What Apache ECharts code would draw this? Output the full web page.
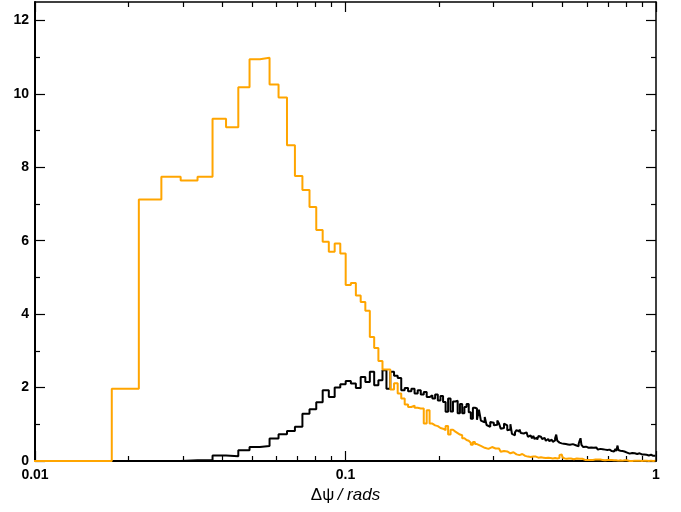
<!DOCTYPE html>
<html>
<head>
<meta charset="utf-8">
<script src="https://cdn.jsdelivr.net/npm/echarts@6/dist/echarts.min.js"></script>
<style>
  html, body { margin: 0; padding: 0; background: #fff; }
  #chart { width: 681px; height: 512px; }
</style>
</head>
<body>
<div id="chart"></div>
<script>
// histogram bins are linear in angle, shown on a log axis
const binWidth = 0.003927
const firstBin = 3

// orange histogram, bins 3..254
const orangeValues = [
  0, 0, 1.97, 7.12, 7.74, 7.64, 7.74, 9.32,
  9.09, 10.18, 10.94, 10.98, 10.25, 9.90, 8.60, 7.76, 7.38, 6.92,
  6.29, 5.97, 5.70, 5.92, 5.65, 4.79, 4.85, 4.51, 4.33, 4.09,
  3.38, 3.08, 2.72, 2.49, 2.49, 1.95, 2.12, 1.84, 1.70, 1.54,
  1.47, 1.51, 1.45, 1.43, 1.43, 1.02, 1.38, 1.02, 0.97, 0.95,
  0.90, 0.88, 0.84, 0.95, 0.72, 0.85, 0.80, 0.76, 0.72, 0.70,
  0.62, 0.57, 0.55, 0.50, 0.44, 0.52, 0.46, 0.43, 0.41, 0.38,
  0.36, 0.31, 0.33, 0.29, 0.38, 0.36, 0.34, 0.32, 0.34, 0.29,
  0.25, 0.27, 0.29, 0.26, 0.22, 0.21, 0.23, 0.24, 0.19, 0.18,
  0.20, 0.16, 0.18, 0.19, 0.15, 0.14, 0.15, 0.12, 0.14, 0.11,
  0.13, 0.12, 0.10, 0.12, 0.11, 0.09, 0.12, 0.10, 0.13, 0.09,
  0.11, 0.08, 0.10, 0.09, 0.12, 0.08, 0.10, 0.07, 0.09, 0.08,
  0.10, 0.07, 0.09, 0.08, 0.16, 0.18, 0.17, 0.09, 0.07, 0.08,
  0.06, 0.08, 0.07, 0.05, 0.07, 0.06, 0.08, 0.05, 0.06, 0.05,
  0.07, 0.05, 0.04, 0.06, 0.05, 0.04, 0.06, 0.04, 0.05, 0.03,
  0.05, 0.04, 0.03, 0.05, 0.04, 0.03, 0.04, 0.05, 0.03, 0.04,
  0.03, 0.04, 0.02, 0.03, 0.04, 0.03, 0.02, 0.04, 0.03, 0.02,
  0.03, 0.02, 0.04, 0.02, 0.03, 0.02, 0.03, 0.01, 0.02, 0.03,
  0.02, 0.01, 0.03, 0.02, 0.01, 0.02, 0.03, 0.01, 0.02, 0.01,
  0.02, 0.01, 0.02, 0.01, 0.02, 0.01, 0.01, 0.02, 0.01, 0.01,
  0.01, 0.02, 0.01, 0, 0.01, 0.02, 0.01, 0.01, 0, 0.01,
  0.02, 0.01, 0, 0.01, 0.01, 0.02, 0, 0.01, 0.01, 0,
  0.01, 0.02, 0.01, 0, 0.01, 0, 0.01, 0.02, 0, 0.01,
  0.01, 0, 0.01, 0.02, 0.01, 0, 0.01, 0, 0.01, 0.01,
  0, 0.01, 0.02, 0, 0.01, 0, 0.01, 0.01, 0, 0.01,
  0.02, 0, 0.01, 0.01
]

// black histogram, bins 3..254
const blackValues = [
  0, 0, 0, 0, 0, 0.02, 0.03, 0.15,
  0.13, 0.29, 0.38, 0.41, 0.61, 0.73, 0.82, 0.93, 1.29, 1.41,
  1.60, 1.93, 1.74, 2.00, 2.09, 2.18, 2.11, 1.99, 2.29, 2.15,
  2.43, 2.06, 2.20, 2.47, 1.97, 2.43, 2.32, 2.26, 1.93, 1.99,
  1.90, 1.97, 1.84, 1.93, 1.81, 1.88, 1.74, 1.79, 1.70, 1.81,
  1.65, 1.77, 1.61, 1.34, 1.70, 1.35, 1.62, 1.64, 1.30, 1.55,
  1.30, 1.47, 1.55, 1.33, 1.15, 1.45, 1.43, 1.12, 1.40, 1.10,
  1.05, 1.20, 0.98, 0.93, 1.06, 1.04, 0.97, 0.99, 1.10, 1.02,
  0.88, 0.90, 1.02, 0.97, 0.84, 0.86, 1.00, 0.74, 0.70, 0.78,
  0.84, 0.80, 0.86, 0.76, 0.75, 0.72, 0.78, 0.79, 0.66, 0.70,
  0.65, 0.62, 0.68, 0.60, 0.64, 0.58, 0.68, 0.66, 0.62, 0.60,
  0.63, 0.58, 0.55, 0.60, 0.57, 0.54, 0.58, 0.55, 0.52, 0.56,
  0.62, 0.72, 0.55, 0.50, 0.52, 0.48, 0.50, 0.47, 0.51, 0.46,
  0.49, 0.45, 0.47, 0.44, 0.48, 0.43, 0.46, 0.42, 0.45, 0.43,
  0.41, 0.44, 0.40, 0.47, 0.55, 0.62, 0.44, 0.40, 0.38, 0.41,
  0.39, 0.37, 0.40, 0.36, 0.38, 0.35, 0.37, 0.39, 0.34, 0.36,
  0.33, 0.35, 0.37, 0.32, 0.34, 0.31, 0.36, 0.33, 0.30, 0.34,
  0.32, 0.29, 0.33, 0.31, 0.28, 0.32, 0.30, 0.34, 0.29, 0.31,
  0.28, 0.30, 0.27, 0.31, 0.29, 0.26, 0.30, 0.28, 0.33, 0.27,
  0.35, 0.42, 0.30, 0.27, 0.25, 0.28, 0.26, 0.24, 0.27, 0.25,
  0.23, 0.26, 0.24, 0.22, 0.25, 0.23, 0.21, 0.24, 0.22, 0.20,
  0.23, 0.21, 0.19, 0.22, 0.20, 0.23, 0.19, 0.21, 0.18, 0.20,
  0.22, 0.19, 0.17, 0.20, 0.18, 0.21, 0.17, 0.19, 0.16, 0.18,
  0.20, 0.17, 0.15, 0.18, 0.16, 0.19, 0.15, 0.17, 0.14, 0.16,
  0.18, 0.15, 0.13, 0.16, 0.14, 0.17, 0.13, 0.15, 0.14, 0.16,
  0.13, 0.15, 0.12, 0.14
]

const xTickValues = [0.01, 0.1, 1]
const xTickLabels = ['0.01', '0.1', '1']
const xMinorTicks = [0.02, 0.03, 0.04, 0.05, 0.06, 0.07, 0.08, 0.09,
  0.2, 0.3, 0.4, 0.5, 0.6, 0.7, 0.8, 0.9]
const yTickValues = [0, 2, 4, 6, 8, 10, 12]
const yMinorTicks = [1, 3, 5, 7, 9, 11]

const xMin = 0.01, xMax = 1
const yMin = 0, yMax = 12.5

const font = '"Liberation Sans", Arial, Helvetica, sans-serif'

// bin i covers [(k-0.5)w, (k+0.5)w]; step 'end' draws the flat top first
function toSteps (values) {
  const pts = values.map((v, i) => [(firstBin + i - 0.5) * binWidth, v])
  pts.push([(firstBin + values.length - 0.5) * binWidth, values[values.length - 1]])
  return pts
}

function xAxisOf (position, ticks, len, lineWidth, withLabels) {
  return {
    type: 'log', logBase: 10, min: xMin, max: xMax, position: position,
    axisLine: { show: lineWidth > 0, onZero: false, lineStyle: { color: '#000', width: lineWidth } },
    axisTick: { show: true, inside: true, length: len, customValues: ticks, lineStyle: { color: '#000', width: 1.2 } },
    axisLabel: withLabels ? {
      show: true, customValues: xTickValues, margin: 7,
      fontFamily: font, fontSize: 14, fontWeight: 'bold', color: '#000',
      formatter: v => {
        const i = xTickValues.findIndex(t => Math.abs(t - v) < 1e-9)
        return i >= 0 ? xTickLabels[i] : ''
      }
    } : { show: false },
    splitLine: { show: false },
    minorTick: { show: false }
  }
}

function yAxisOf (position, ticks, len, lineWidth, withLabels) {
  return {
    type: 'value', min: yMin, max: yMax, position: position,
    axisLine: { show: lineWidth > 0, onZero: false, lineStyle: { color: '#000', width: lineWidth } },
    axisTick: { show: true, inside: true, length: len, customValues: ticks, lineStyle: { color: '#000', width: 1.2 } },
    axisLabel: withLabels ? {
      show: true, customValues: yTickValues, margin: 6,
      fontFamily: font, fontSize: 14, fontWeight: 'bold', color: '#000'
    } : { show: false },
    splitLine: { show: false }
  }
}

const chart = echarts.init(document.getElementById('chart'), null, { renderer: 'canvas' })

const bottomAxis = xAxisOf('bottom', xTickValues, 10, 2, true)
bottomAxis.name = '{n|Δψ} {i|/ rads}'
bottomAxis.nameLocation = 'middle'
bottomAxis.nameGap = 24
bottomAxis.nameTextStyle = {
  color: '#000',
  rich: {
    n: { fontFamily: font, fontSize: 17, color: '#000' },
    i: { fontFamily: font, fontSize: 17, fontStyle: 'italic', color: '#000' }
  }
}

chart.setOption({
  animation: false,
  backgroundColor: '#fff',
  grid: { left: 35, right: 25, top: 2, bottom: 51, containLabel: false },
  xAxis: [
    bottomAxis,
    xAxisOf('bottom', xMinorTicks, 5, 0, false),
    xAxisOf('top', xTickValues, 10, 1.5, false),
    xAxisOf('top', xMinorTicks, 5, 0, false)
  ],
  yAxis: [
    yAxisOf('left', yTickValues, 10, 2, true),
    yAxisOf('left', yMinorTicks, 5, 0, false),
    yAxisOf('right', yTickValues, 10, 1.5, false),
    yAxisOf('right', yMinorTicks, 5, 0, false)
  ],
  series: [
    {
      name: 'black', type: 'line', step: 'end', symbol: 'none',
      xAxisIndex: 0, yAxisIndex: 0,
      lineStyle: { color: '#000', width: 2 },
      data: toSteps(blackValues)
    },
    {
      name: 'orange', type: 'line', step: 'end', symbol: 'none',
      xAxisIndex: 0, yAxisIndex: 0,
      lineStyle: { color: '#FFA500', width: 2 },
      data: toSteps(orangeValues)
    }
  ]
})
</script>
</body>
</html>
